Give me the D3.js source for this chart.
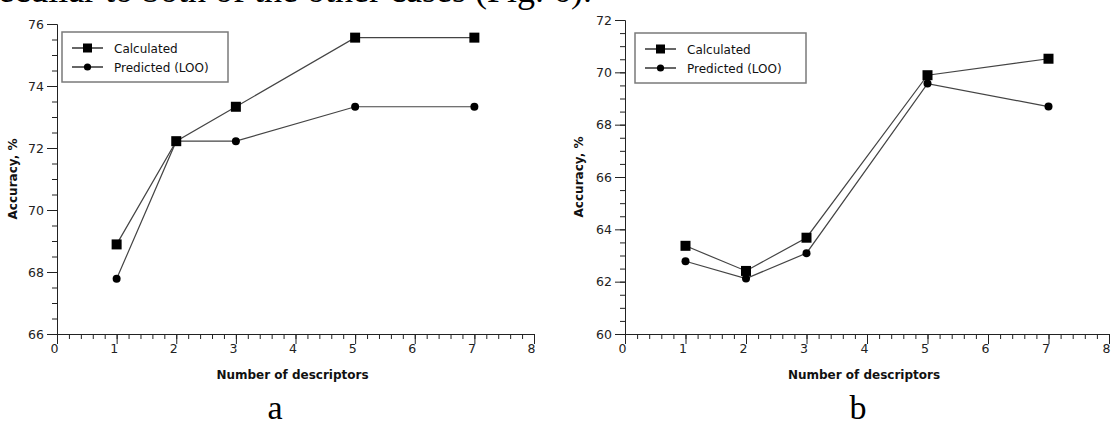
<!DOCTYPE html>
<html>
<head>
<meta charset="utf-8">
<script src="https://cdn.jsdelivr.net/npm/d3@7/dist/d3.min.js"></script>
<style>
  html, body { margin: 0; padding: 0; background: #fff; }
  svg { display: block; }
</style>
</head>
<body>
<svg id="fig" width="1113" height="426"></svg>
<script>
// Number of descriptors in the model
const descriptors = [1, 2, 3, 5, 7];

// Panel a: accuracy, %
const calculatedA = [68.89, 72.22, 73.33, 75.56, 75.56];
const predictedA  = [67.78, 72.22, 72.22, 73.33, 73.33];

// Panel b: accuracy, %
const calculatedB = [63.37, 62.41, 63.68, 69.89, 70.52];
const predictedB  = [62.78, 62.12, 63.09, 69.57, 68.69];

// Axis ticks
const xMajorTicks = [0, 1, 2, 3, 4, 5, 6, 7, 8];
const yMajorTicksA = [66, 68, 70, 72, 74, 76];
const yMajorTicksB = [60, 62, 64, 66, 68, 70, 72];

const seriesNames = ["Calculated", "Predicted (LOO)"];
const xTitle = "Number of descriptors";
const yTitle = "Accuracy, %";
const panelLetters = ["a", "b"];
const runningText = "for those peculiar to both of the other cases (Fig. 6).";

const svg = d3.select("#fig");
const UI = "'DejaVu Sans', Verdana, sans-serif";
const SERIF = "'Liberation Serif', 'Times New Roman', serif";

// Bottom of the running text line above the figure
svg.append("text")
  .attr("x", 592).attr("y", 2)
  .attr("text-anchor", "end")
  .attr("font-family", SERIF).attr("font-size", 36)
  .attr("fill", "#000")
  .text(runningText);

function minorTicks(lo, hi, step) {
  const out = [];
  const n = Math.round((hi - lo) / step);
  for (let i = 0; i <= n; i++) out.push(+(lo + i * step).toFixed(4));
  return out;
}

function drawPanel(opt) {
  const g = svg.append("g");
  const x = d3.scaleLinear().domain([0, 8]).range(opt.xRange);
  const y = d3.scaleLinear().domain(opt.yDomain).range(opt.yRange);
  const axisColor = "#222";

  // x axis: minor then major ticks, pointing down
  const xMinor = g.append("g").attr("transform", `translate(0,${opt.yRange[0]})`)
    .call(d3.axisBottom(x).tickValues(minorTicks(0, 8, 0.2)).tickSize(5).tickFormat("").tickSizeOuter(0));
  const xMajor = g.append("g").attr("transform", `translate(0,${opt.yRange[0]})`)
    .call(d3.axisBottom(x).tickValues(xMajorTicks).tickSize(10).tickPadding(3).tickSizeOuter(0).tickFormat(d3.format("d")));
  [xMinor, xMajor].forEach(a => {
    a.selectAll("line").attr("stroke", axisColor);
    a.select(".domain").attr("stroke", axisColor);
  });
  xMajor.selectAll("text")
    .attr("font-family", UI).attr("font-size", 12.5).attr("fill", "#222")
    .attr("dx", -3).attr("dy", "0.45em");

  // y axis: minor then major ticks, pointing left
  const yMinor = g.append("g").attr("transform", `translate(${opt.xRange[0]},0)`)
    .call(d3.axisLeft(y).tickValues(minorTicks(opt.yDomain[0], opt.yDomain[1], 0.5)).tickSize(5).tickFormat("").tickSizeOuter(0));
  const yMajor = g.append("g").attr("transform", `translate(${opt.xRange[0]},0)`)
    .call(d3.axisLeft(y).tickValues(opt.yMajor).tickSize(10).tickPadding(3).tickSizeOuter(0).tickFormat(d3.format("d")));
  [yMinor, yMajor].forEach(a => {
    a.selectAll("line").attr("stroke", axisColor);
    a.select(".domain").attr("stroke", axisColor);
  });
  yMajor.selectAll("text")
    .attr("font-family", UI).attr("font-size", 12.5).attr("fill", "#222");

  // axis titles
  g.append("text")
    .attr("x", (opt.xRange[0] + opt.xRange[1]) / 2 - 3)
    .attr("y", opt.yRange[0] + 45)
    .attr("text-anchor", "middle")
    .attr("font-family", UI).attr("font-size", 12).attr("font-weight", "bold")
    .attr("fill", "#111")
    .text(xTitle);
  g.append("text")
    .attr("transform", `translate(${opt.xRange[0] - opt.yTitleGap},${(opt.yRange[0] + opt.yRange[1]) / 2}) rotate(-90)`)
    .attr("text-anchor", "middle")
    .attr("font-family", UI).attr("font-size", 12).attr("font-weight", "bold")
    .attr("fill", "#111")
    .text(yTitle);

  // series lines
  const line = d3.line().x((d, i) => x(descriptors[i])).y(d => y(d));
  [opt.calc, opt.loo].forEach(vals => {
    g.append("path").datum(vals)
      .attr("d", line)
      .attr("fill", "none").attr("stroke", "#444").attr("stroke-width", 1.2);
  });

  // markers: squares for calculated, circles for predicted
  const sq = 10;
  g.selectAll("rect.calc").data(opt.calc).join("rect")
    .attr("class", "calc")
    .attr("x", (d, i) => x(descriptors[i]) - sq / 2)
    .attr("y", d => y(d) - sq / 2)
    .attr("width", sq).attr("height", sq)
    .attr("fill", "#000");
  g.selectAll("circle.loo").data(opt.loo).join("circle")
    .attr("class", "loo")
    .attr("cx", (d, i) => x(descriptors[i]))
    .attr("cy", d => y(d))
    .attr("r", 4)
    .attr("fill", "#000");

  // legend
  const L = opt.legend;
  g.append("rect")
    .attr("x", L.x).attr("y", L.y).attr("width", L.w).attr("height", L.h)
    .attr("fill", "#fff").attr("stroke", "#7a7a7a").attr("stroke-width", 1.5);
  seriesNames.forEach((name, i) => {
    const ry = L.y + 16 + i * 19;
    g.append("line")
      .attr("x1", L.x + 10).attr("x2", L.x + 41)
      .attr("y1", ry).attr("y2", ry)
      .attr("stroke", "#666").attr("stroke-width", 2);
    if (i === 0) {
      g.append("rect")
        .attr("x", L.x + 25.5 - 4.5).attr("y", ry - 4.5)
        .attr("width", 9).attr("height", 9).attr("fill", "#000");
    } else {
      g.append("circle")
        .attr("cx", L.x + 25.5).attr("cy", ry).attr("r", 3.6).attr("fill", "#000");
    }
    g.append("text")
      .attr("x", L.x + 52).attr("y", ry + 4.5)
      .attr("font-family", UI).attr("font-size", 12).attr("fill", "#111")
      .text(name);
  });

  // panel letter
  svg.append("text")
    .attr("x", opt.letterX).attr("y", 418.5)
    .attr("text-anchor", "middle")
    .attr("font-family", SERIF).attr("font-size", 34).attr("fill", "#000")
    .text(opt.letter);
}

drawPanel({
  xRange: [57, 534], yDomain: [66, 76], yRange: [334, 24],
  yMajor: yMajorTicksA, calc: calculatedA, loo: predictedA,
  legend: { x: 62, y: 32, w: 166, h: 50 }, yTitleGap: 40,
  letter: panelLetters[0], letterX: 275
});

drawPanel({
  xRange: [625, 1109], yDomain: [60, 72], yRange: [334, 20],
  yMajor: yMajorTicksB, calc: calculatedB, loo: predictedB,
  legend: { x: 635, y: 33, w: 171, h: 50 }, yTitleGap: 42,
  letter: panelLetters[1], letterX: 858
});
</script>
</body>
</html>
